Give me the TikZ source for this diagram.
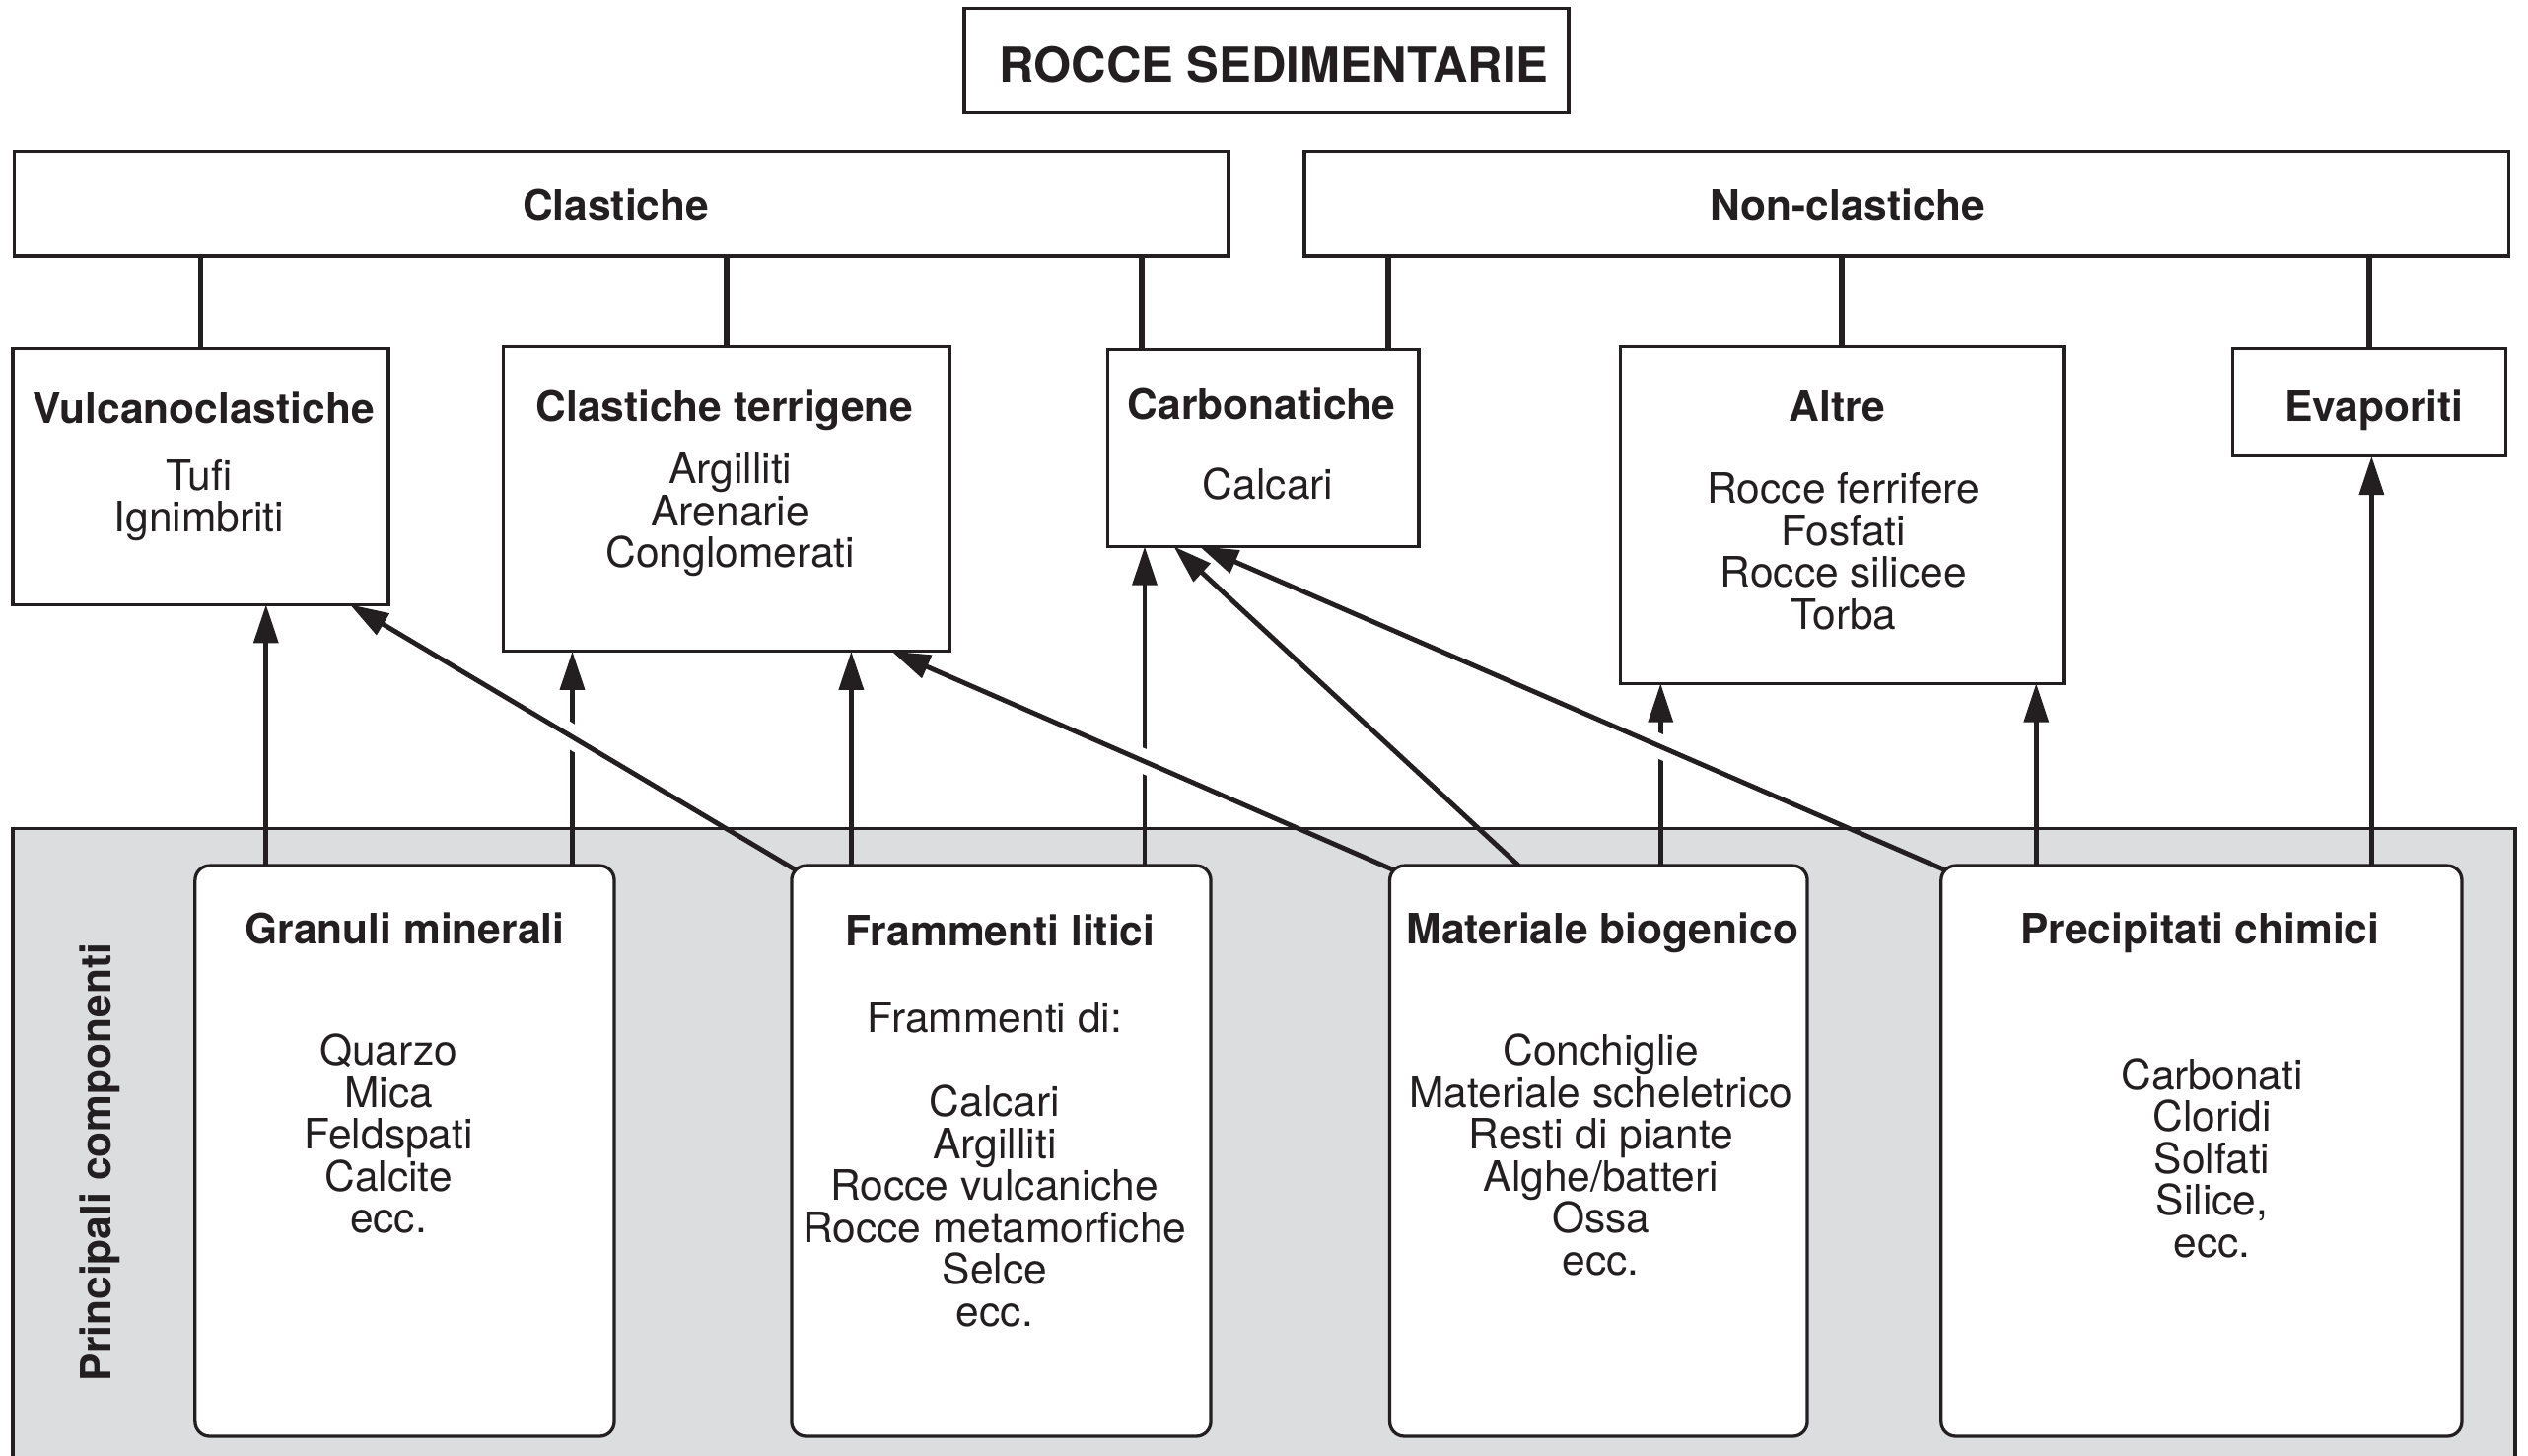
\documentclass[tikz,border=0pt]{standalone}
\usepackage{fontspec}
\setmainfont{TeX Gyre Heros}
\usetikzlibrary{arrows.meta,calc}
\definecolor{ink}{RGB}{35,31,32}
\definecolor{panel}{RGB}{220,221,223}
% zero-width strut giving every body block the same bottom depth
\newcommand\lastln{\rule[-5.5pt]{0pt}{1pt}}

\begin{document}
\begin{tikzpicture}[x=1pt,y=-1pt,
  every node/.style={inner sep=0pt, outer sep=0pt},
  body/.style={font=\fontsize{26}{26}\selectfont, align=center, text=ink},
  hd/.style={font=\fontsize{26}{26}\selectfont\bfseries, text=ink, text height=19pt, text depth=0pt},
  maintitle/.style={font=\fontsize{30}{30}\selectfont\bfseries, text=ink, text height=22pt, text depth=0pt},
  catbox/.style={draw=ink, line width=2pt, fill=white},
  compbox/.style={draw=ink, line width=2pt, fill=white, rounded corners=9pt},
  panelbox/.style={draw=ink, line width=2pt, fill=panel},
  link/.style={draw=ink, line width=3.5pt},
  flow/.style={draw=ink, line width=3pt, -{Triangle[length=24pt,width=15pt]}},
  halo/.style={draw=white, line width=15pt},
]
\useasboundingbox (0,0) rectangle (1568,903);
\fill[white] (0,0) rectangle (1568,903);

% ---- components panel ----
\node[panelbox, minimum width=1552pt, minimum height=401pt] (panel) at (784,714.5) {};
\node[hd, rotate=90] (side) at (59,721) {Principali componenti};

\node[compbox, minimum width=260pt, minimum height=354pt] (gran) at (251,714) {};
\node[compbox, minimum width=260pt, minimum height=354pt] (fram) at (621,714) {};
\node[compbox, minimum width=259pt, minimum height=354pt] (mat)  at (991.5,714) {};
\node[compbox, minimum width=323pt, minimum height=354pt] (prec) at (1365.5,714) {};

\node[hd] (gran-t) at (251,576) {Granuli minerali};
\node[body] (gran-b) at (241,706) {Quarzo\\Mica\\Feldspati\\Calcite\\ecc.\lastln};
\node[hd] (fram-t) at (620.5,577) {Frammenti litici};
\node[body] (fram-b) at (617,725) {Frammenti di:\\[26pt]Calcari\\Argilliti\\Rocce vulcaniche\\Rocce metamorfiche\\Selce\\ecc.\lastln};
\node[hd] (mat-t) at (994,576) {Materiale biogenico};
\node[body] (mat-b) at (993,719) {Conchiglie\\Materiale scheletrico\\Resti di piante\\Alghe/batteri\\Ossa\\ecc.\lastln};
\node[hd] (prec-t) at (1364.5,576) {Precipitati chimici};
\node[body] (prec-b) at (1372,721) {Carbonati\\Cloridi\\Solfati\\Silice,\\ecc.\lastln};

% ---- classification boxes ----
\node[catbox, minimum width=375pt, minimum height=65pt] (root) at (785.5,37.5) {};
\node[maintitle] (root-t) at (790,40) {ROCCE SEDIMENTARIE};

\node[catbox, minimum width=753pt, minimum height=65pt] (clast) at (385.5,126.5) {};
\node[hd] (clast-t) at (382,127) {Clastiche};
\node[catbox, minimum width=747pt, minimum height=65pt] (nonclast) at (1182.5,126.5) {};
\node[hd] (nonclast-t) at (1146,127) {Non-clastiche};

\node[catbox, minimum width=233pt, minimum height=159pt] (vulc) at (124.5,295.5) {};
\node[hd] (vulc-t) at (126.5,253) {Vulcanoclastiche};
\node[body] (vulc-b) at (123.5,310.5) {Tufi\\Ignimbriti\lastln};

\node[catbox, minimum width=277pt, minimum height=189pt] (terr) at (450.5,309.5) {};
\node[hd] (terr-t) at (449.5,252) {Clastiche terrigene};
\node[body] (terr-b) at (453,319.5) {Argilliti\\Arenarie\\Conglomerati\lastln};

\node[catbox, minimum width=193pt, minimum height=122pt] (carb) at (783.5,278) {};
\node[hd] (carb-t) at (782.5,251) {Carbonatiche};
\node[body] (carb-b) at (786.5,302.5) {Calcari\lastln};

\node[catbox, minimum width=275pt, minimum height=209pt] (altre) at (1142.5,319.5) {};
\node[hd] (altre-t) at (1139.5,252) {Altre};
\node[body] (altre-b) at (1143.5,344.5) {Rocce ferrifere\\Fosfati\\Rocce silicee\\Torba\lastln};

\node[catbox, minimum width=169pt, minimum height=67pt] (evap) at (1469.5,249.5) {};
\node[hd] (evap-t) at (1472.5,252) {Evaporiti};

% ---- hierarchy links ----
\coordinate (cl) at ([xshift=21pt]carb.north west);
\coordinate (cr) at ([xshift=-19pt]carb.north east);
\draw[link] (vulc.north |- clast.south) -- (vulc.north);
\draw[link] (terr.north |- clast.south) -- (terr.north);
\draw[link] (cl |- clast.south) -- (cl);
\draw[link] (cr |- nonclast.south) -- (cr);
\draw[link] (altre.north |- nonclast.south) -- (altre.north);
\draw[link] (evap.north |- nonclast.south) -- (evap.north);

% ---- arrow anchors ----
\coordinate (g1) at ([xshift=44pt]gran.north west);
\coordinate (g2) at ([xshift=234pt]gran.north west);
\coordinate (f1) at ([xshift=37pt]fram.north west);
\coordinate (f2) at ([xshift=219pt]fram.north west);
\coordinate (m1) at ([xshift=80pt]mat.north west);
\coordinate (m2) at ([xshift=168pt]mat.north west);
\coordinate (p1) at ([xshift=59pt]prec.north west);
\coordinate (p2) at ([xshift=267pt]prec.north west);
\coordinate (fc) at ([shift={(3,3)}]fram.north west);
\coordinate (mc) at ([shift={(3,3)}]mat.north west);
\coordinate (pc) at ([shift={(3,3)}]prec.north west);
\coordinate (tv) at ([xshift=209pt]vulc.south west);
\coordinate (tt) at ([xshift=241pt]terr.south west);
\coordinate (tc1) at ([xshift=41pt]carb.south west);
\coordinate (tc2) at ([xshift=57pt]carb.south west);

% ---- vertical arrows ----
\draw[flow] (g1) -- (g1 |- vulc.south);
\draw[flow] (g2) -- (g2 |- terr.south);
\draw[flow] (f1) -- (f1 |- terr.south);
\draw[flow] (f2) -- (f2 |- carb.south);
\draw[flow] (m2) -- (m2 |- altre.south);
\draw[flow] (p1) -- (p1 |- altre.south);
\draw[flow] (p2) -- (p2 |- evap.south);

% ---- diagonal arrows, each cutting a gap where it crosses a vertical ----
\draw[halo] ($(fc)!0.25!(tv)$) -- ($(fc)!0.75!(tv)$);
\draw[flow] (fc) -- (tv);
\draw[halo] ($(mc)!0.3!(tt)$) -- ($(mc)!0.7!(tt)$);
\draw[flow] (mc) -- (tt);
\draw[flow] (m1) -- (tc1);
\draw[halo] ($(pc)!0.25!(tc2)$) -- ($(pc)!0.55!(tc2)$);
\draw[flow] (pc) -- (tc2);
\end{tikzpicture}
\end{document}
